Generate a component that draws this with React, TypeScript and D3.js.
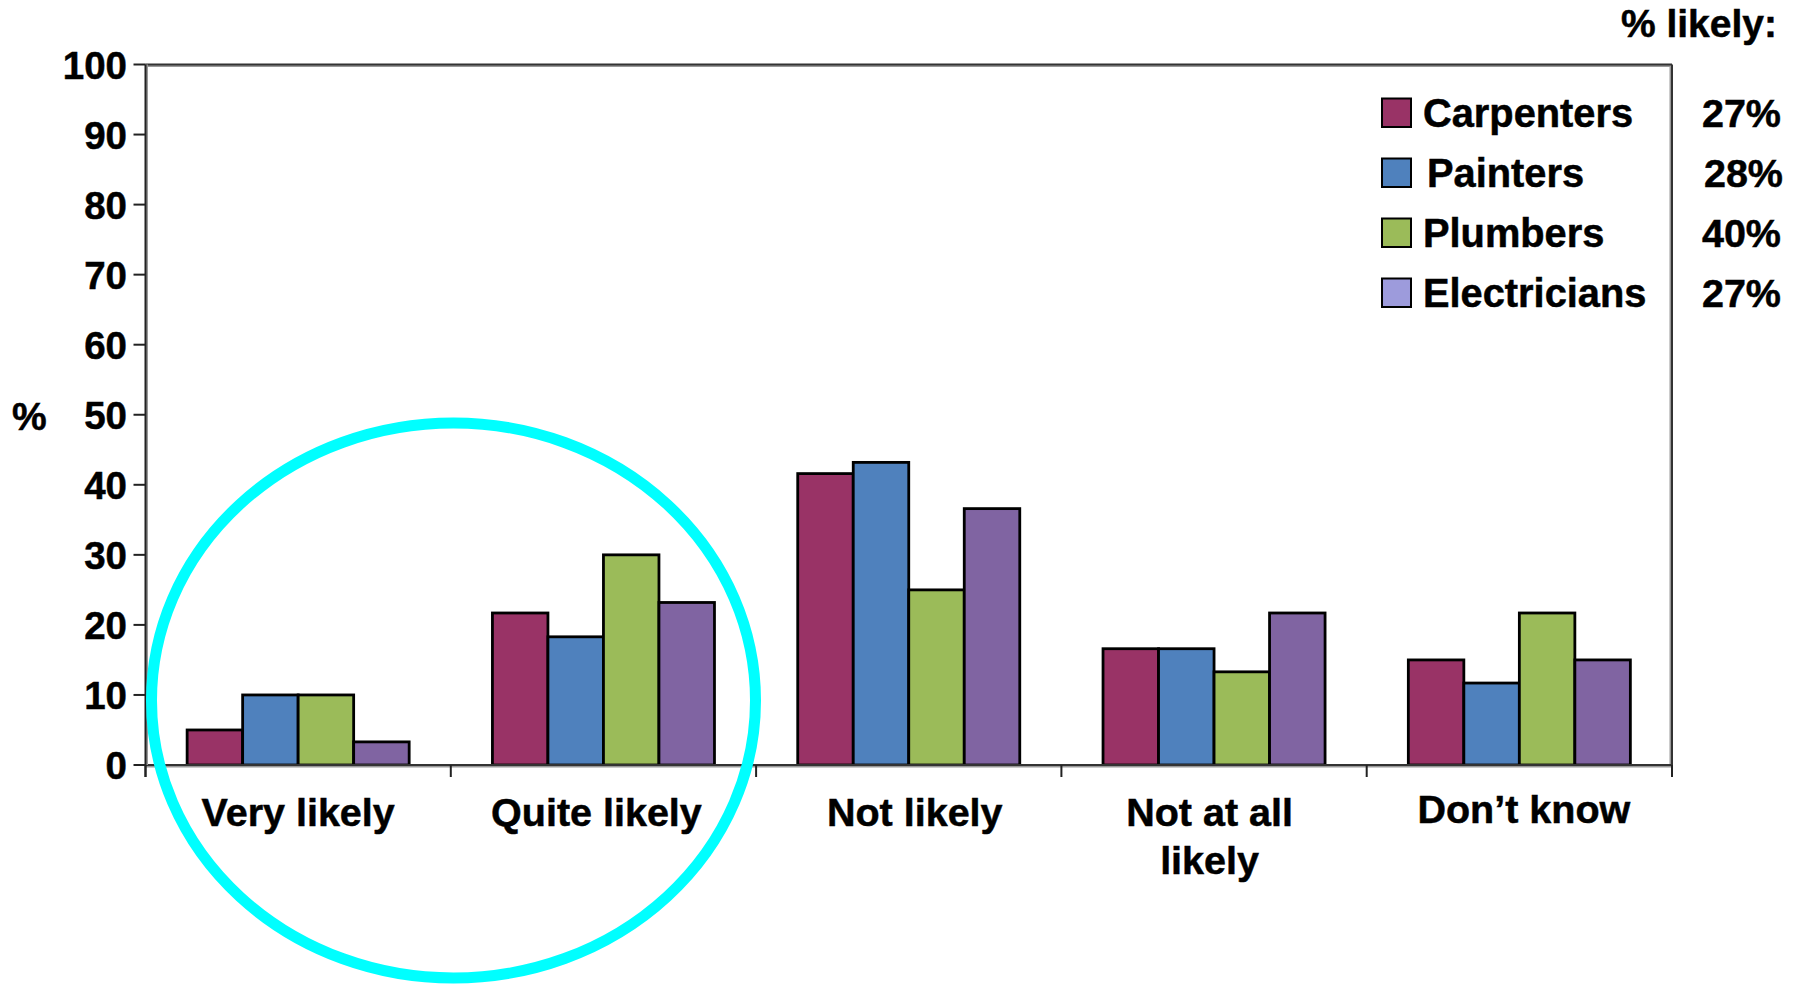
import * as d3 from 'd3';

const categories = ['Very likely', 'Quite likely', 'Not likely', 'Not at all likely', 'Don\u2019t know'];
const categoryLines = [['Very likely'], ['Quite likely'], ['Not likely'], ['Not at all', 'likely'], ['Don\u2019t know']];
const seriesNames = ['Carpenters', 'Painters', 'Plumbers', 'Electricians'];
const carpenters = [5, 21.7, 41.6, 16.6, 15];
const painters = [10, 18.3, 43.2, 16.6, 11.7];
const plumbers = [10, 30, 25, 13.3, 21.7];
const electricians = [3.3, 23.2, 36.6, 21.7, 15];
const likelyPct = ['27%', '28%', '40%', '27%'];
const yTicks = [0, 10, 20, 30, 40, 50, 60, 70, 80, 90, 100];

const barColors = ['#993366', '#4f81bd', '#9bbb59', '#8064a2'];
const swatchColors = ['#993366', '#4f81bd', '#9bbb59', '#9d9bdc'];

// small nudges of the category labels as they sit in the original slide
const labelShiftX = [0, -7, 6, -4.5, 4.5];
const labelBaseline = [825.5, 825.5, 825.5, 825.5, 823];

const W = 1796;
const H = 986;
const left = 145.5;
const right = 1672;
const top = 64.5;
const bottom = 765;
const font = '"Liberation Sans", Arial, sans-serif';

export default function App() {
  const values = [carpenters, painters, plumbers, electricians];

  const x = d3.scaleBand<string>().domain(categories).range([left, right]).padding(0);
  const xs = d3.scaleBand<string>()
    .domain(seriesNames)
    .range([0, x.bandwidth()])
    .paddingInner(0)
    .paddingOuter(0.75);
  const y = d3.scaleLinear().domain([0, 100]).range([bottom, top]);

  const boundaries = categories.map(c => x(c)!).concat([right]);

  const textProps = { fill: '#000', stroke: '#000', strokeWidth: 0.5 };

  return (
    <svg width={W} height={H} style={{ position: 'absolute', left: 0, top: 0, background: '#fff' }}
      fontFamily={font} fontWeight="bold">
      {/* plot frame */}
      <line x1={left} y1={top + 1.5} x2={right} y2={top + 1.5} stroke="#999" strokeWidth={2} />
      <line x1={right - 1.5} y1={top} x2={right - 1.5} y2={bottom} stroke="#999" strokeWidth={2} />
      <line x1={left} y1={top} x2={right} y2={top} stroke="#333" strokeWidth={2} />
      <line x1={right} y1={top} x2={right} y2={bottom} stroke="#333" strokeWidth={2} />

      {/* bars */}
      {values.map((vals, si) => (
        <g key={seriesNames[si]}>
          {vals.map((v, ci) => (
            <rect key={ci}
              x={x(categories[ci])! + xs(seriesNames[si])!}
              y={y(v)}
              width={xs.bandwidth()}
              height={bottom - y(v)}
              fill={barColors[si]}
              stroke="#000"
              strokeWidth={2.8} />
          ))}
        </g>
      ))}

      {/* axes */}
      <line x1={left} y1={bottom + 1.5} x2={right} y2={bottom + 1.5} stroke="#999" strokeWidth={2} />
      <line x1={left} y1={bottom} x2={right} y2={bottom} stroke="#333" strokeWidth={2} />
      <line x1={left + 1.5} y1={top} x2={left + 1.5} y2={bottom} stroke="#999" strokeWidth={2} />
      <line x1={left} y1={top} x2={left} y2={bottom + 12} stroke="#222" strokeWidth={2} />
      {boundaries.map((b, i) => (
        <line key={i} x1={b} x2={b} y1={bottom} y2={bottom + 12} stroke="#222" strokeWidth={2} />
      ))}
      {yTicks.map(t => (
        <g key={t}>
          <line x1={left - 12} x2={left} y1={y(t)} y2={y(t)} stroke="#222" strokeWidth={2} />
          <text x={127} y={y(t) + 14} textAnchor="end" fontSize={38.5} {...textProps}>{t}</text>
        </g>
      ))}
      <text x={12} y={430} fontSize={39} {...textProps}>%</text>

      {/* category labels */}
      {categories.map((c, i) => {
        const cx = x(c)! + x.bandwidth() / 2 + labelShiftX[i];
        return (
          <text key={c} x={cx} y={labelBaseline[i]} textAnchor="middle" fontSize={39.5} {...textProps}>
            {categoryLines[i].map((ln, j) => (
              <tspan key={j} x={cx} dy={j === 0 ? 0 : 48}>{ln}</tspan>
            ))}
          </text>
        );
      })}

      {/* legend */}
      <text x={1777} y={37} textAnchor="end" fontSize={39} {...textProps}>% likely:</text>
      {seriesNames.map((s, i) => {
        const rowTop = 98.5 + i * 60;
        return (
          <g key={s}>
            <rect x={1382} y={rowTop} width={29} height={28.5} fill={swatchColors[i]} stroke="#000" strokeWidth={2} />
            <text x={i === 1 ? 1427 : 1423} y={rowTop + 28} fontSize={39.8} {...textProps}>{s}</text>
            <text x={i === 1 ? 1783 : 1781} y={rowTop + 28} textAnchor="end" fontSize={39.5} {...textProps}>{likelyPct[i]}</text>
          </g>
        );
      })}

      {/* highlight ellipse */}
      <ellipse cx={453.5} cy={700.5} rx={302} ry={277.5} fill="none" stroke="#00ffff" strokeWidth={11} />
    </svg>
  );
}
